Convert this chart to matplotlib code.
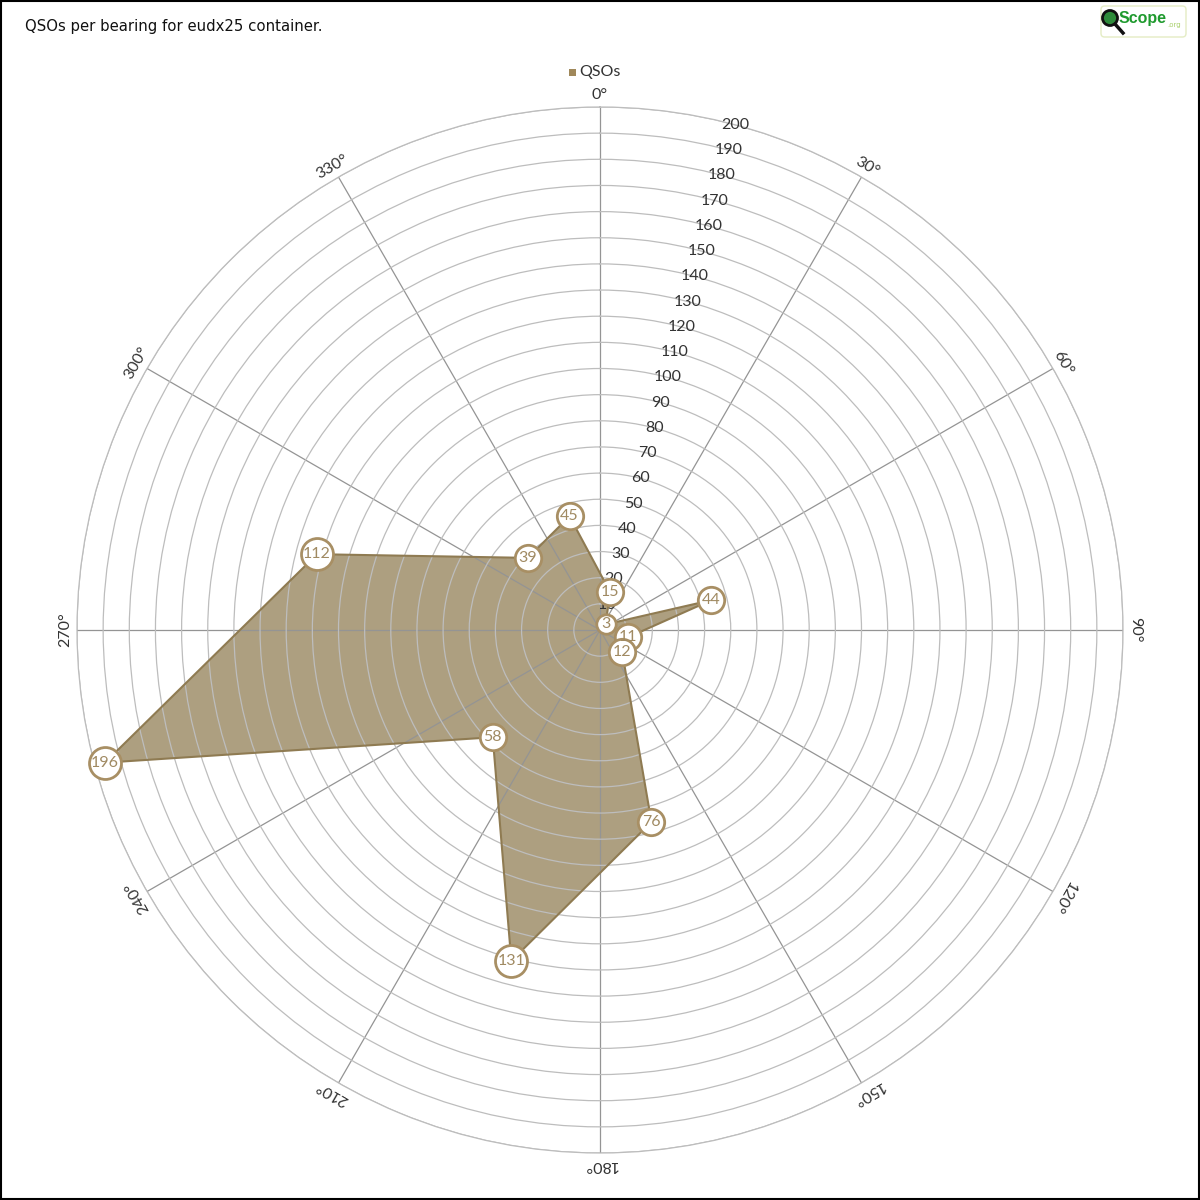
import numpy as np
import matplotlib
matplotlib.use("Agg")
import matplotlib.pyplot as plt
from matplotlib.patches import FancyBboxPatch, Circle, Rectangle

# ---- data ----
bearings = [15, 45, 75, 105, 135, 165, 195, 225, 255, 285, 315, 345]
qsos = [15, 3, 44, 11, 12, 76, 131, 58, 196, 112, 39, 45]
angle_labels = [f"{a}°" for a in range(0, 360, 30)]
ring_values = list(range(10, 201, 10))
title = "QSOs per bearing for eudx25 container."
series_name = "QSOs"

FILL = "#ad9f80"
EDGE = "#8f7b52"
MARK_EDGE = "#a88f64"
TXT_BROWN = "#a08a62"
FONT = ["Lato", "DejaVu Sans"]

fig = plt.figure(figsize=(12, 12), dpi=100)
fig.patch.set_facecolor("white")

ax = fig.add_axes([600/1200 - 523/1200, (1200 - 630 - 523)/1200, 1046/1200, 1046/1200],
                  projection="polar")
ax.set_theta_zero_location("N")
ax.set_theta_direction(-1)
ax.set_ylim(0, 200)

th = np.deg2rad(bearings + bearings[:1])
rv = qsos + qsos[:1]
ax.fill(th, rv, color=FILL, alpha=1.0, zorder=1, linewidth=0)
ax.plot(th, rv, color=EDGE, lw=1.5, zorder=3)

# grid
ax.set_axisbelow(False)
ax.set_xticks(np.deg2rad(np.arange(0, 360, 30)))
ax.set_xticklabels([])
ax.set_yticks(ring_values)
ax.set_yticklabels([str(v) for v in ring_values], fontsize=11.5, color="#333333",
                   family=FONT)
ax.set_rlabel_position(15)
for lab in ax.get_yticklabels():
    lab.set_ha("center")
    lab.set_va("center")
ax.yaxis.grid(True, color="#bdbdbd", lw=0.9)
ax.xaxis.grid(True, color="#949494", lw=0.9)
for gl in ax.yaxis.get_gridlines() + ax.xaxis.get_gridlines():
    gl.set_zorder(2)
ax.spines["polar"].set_color("#bdbdbd")
ax.spines["polar"].set_linewidth(0.9)
ax.tick_params(axis="y", pad=0)

# angle labels
for a, lab in zip(range(0, 360, 30), angle_labels):
    ax.text(np.deg2rad(a), 204.5, lab, rotation=-a, rotation_mode="anchor",
            ha="center", va="center", fontsize=11.5, color="#333333", family=FONT,
            clip_on=False)

# markers with value labels
for b, q in zip(bearings, qsos):
    s = str(q)
    ms = {1: 14, 2: 19, 3: 23}[len(s)]
    ax.plot(np.deg2rad(b), q, marker="o", ms=ms, mfc="white", mec=MARK_EDGE,
            mew=2, zorder=5, clip_on=False)
    ax.text(np.deg2rad(b), q, s, ha="center", va="center", fontsize=11.5,
            color=TXT_BROWN, family=FONT, zorder=6)

# title
fig.text(25/1200, 1 - 26/1200, title, ha="left", va="center", fontsize=10.7,
         color="#111111", family=["DejaVu Sans"])

# legend
fig.patches.append(Rectangle((569/1200, 1 - 76/1200), 7/1200, 7/1200,
                             transform=fig.transFigure, facecolor="#a0885a",
                             edgecolor="none"))
fig.text(579/1200, 1 - 72/1200, series_name, ha="left", va="center", fontsize=11.5,
         color="#333333", family=FONT)

# logo
fig.patches.append(FancyBboxPatch((1101/1200, 1 - 37/1200), 85/1200, 31/1200,
                                  boxstyle="round,pad=0,rounding_size=0.003",
                                  transform=fig.transFigure, facecolor="white",
                                  edgecolor="#e4ecc4", lw=1))
fig.patches.append(Circle((1110/1200, 1 - 18/1200), 7.5/1200, transform=fig.transFigure,
                          facecolor="#2e8b3a", edgecolor="#111111", lw=2))
fig.lines.append(plt.Line2D([1115/1200, 1123/1200], [1 - 24/1200, 1 - 33/1200],
                            transform=fig.transFigure, color="#111111", lw=2.5))
fig.text(1119/1200, 1 - 19/1200, "Scope", ha="left", va="center", fontsize=11.5,
         color="#1f9a2e", fontweight="bold",
         family=["Liberation Sans Narrow", "Liberation Sans"])
fig.text(1167/1200, 1 - 25/1200, ".org", ha="left", va="center", fontsize=5,
         color="#a8cf6a", family=["DejaVu Sans"])

# border
fig.patches.append(Rectangle((0.0005, 0.0005), 0.999, 0.999, transform=fig.transFigure,
                             facecolor="none", edgecolor="black", lw=1.5))

fig.savefig("out.png", dpi=100)
